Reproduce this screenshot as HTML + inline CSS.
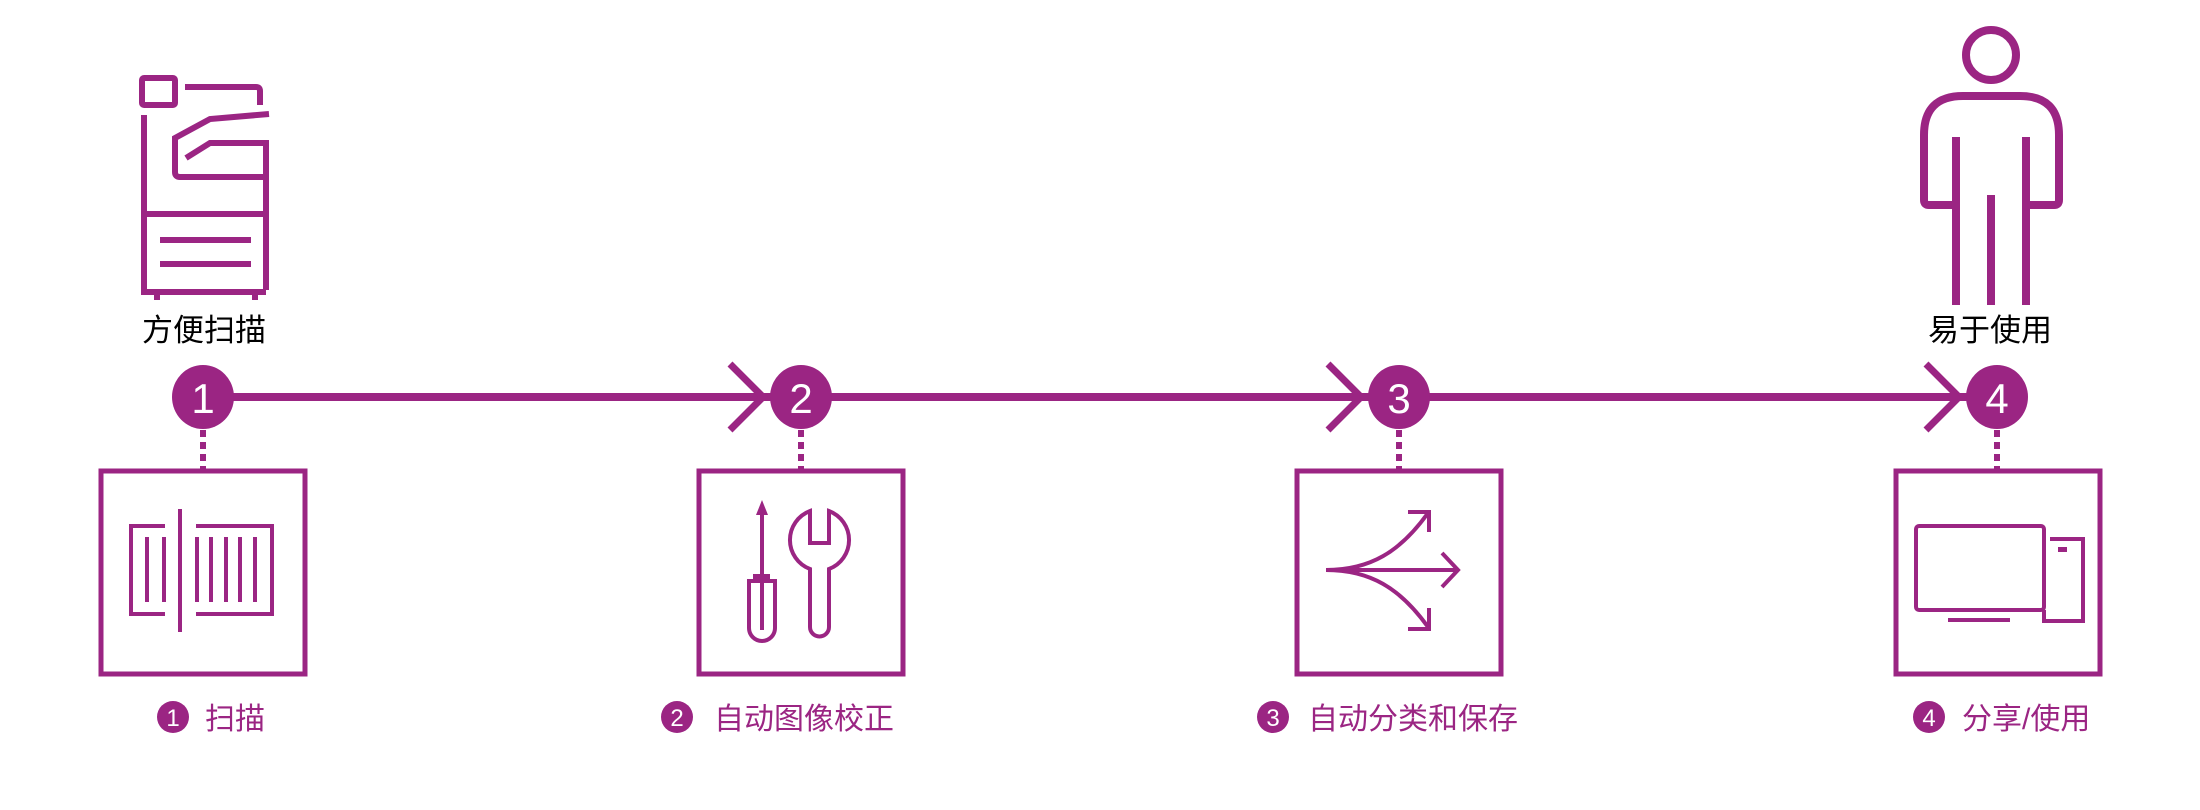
<!DOCTYPE html>
<html><head><meta charset="utf-8"><style>
html,body{margin:0;padding:0;background:#fff;}
svg{display:block;}
text{font-family:"Liberation Sans","Noto Sans CJK SC",sans-serif;}
</style></head><body>
<svg width="2200" height="810" viewBox="0 0 2200 810" xmlns="http://www.w3.org/2000/svg">
<g fill="none" stroke="#9b2583" stroke-linecap="butt" stroke-linejoin="miter">
<!-- printer -->
<g stroke-width="6">
<rect x="142" y="78" width="33" height="27" rx="2"/>
<path d="M185,87 H256 Q260,87 260,91 V105"/>
<path d="M269,114 L210,119 L175,138 V172 Q175,177 180,177 H266"/>
<path d="M186,158 L210,143 H266 V290"/>
<path d="M144,115 V292 H266"/>
<path d="M144,214 H266 M160,240 H251 M160,264 H251"/>
<path d="M157,292 V300 M255,292 V300" stroke-width="6"/>
</g>
<!-- person -->
<g stroke-width="8">
<circle cx="1991" cy="55" r="25"/>
<path d="M1956,205 H1929 Q1924,205 1924,200 V135 Q1924,96 1963,96 H2020 Q2059,96 2059,135 V200 Q2059,205 2054,205 H2026"/>
<path d="M1956,137 V305 M2026,137 V305 M1991,195 V305"/>
</g>
<!-- main line -->
<path d="M203,397 H1997" stroke-width="8"/>
<g stroke-width="7">
<path d="M730,364 L763,397 L730,430"/>
<path d="M1328,364 L1361,397 L1328,430"/>
<path d="M1926,364 L1959,397 L1926,430"/>
</g>
<!-- dotted -->
<g stroke-width="6" stroke-dasharray="7,5">
<path d="M203,430 V469 M801,430 V469 M1399,430 V469 M1997,430 V469"/>
</g>
<!-- boxes -->
<g stroke-width="5">
<rect x="101" y="471" width="204" height="203"/>
<rect x="699" y="471" width="204" height="203"/>
<rect x="1297" y="471" width="204" height="203"/>
<rect x="1896" y="471" width="204" height="203"/>
</g>
<!-- barcode -->
<g stroke-width="4">
<path d="M165,526 H131 V614 H165"/>
<path d="M196,526 H272 V614 H196"/>
<path d="M180,509 V632"/>
<path d="M147,537 V602 M164,537 V602 M197,537 V602 M211,537 V602 M226,537 V602 M240,537 V602 M255,537 V602"/>
</g>
<!-- tools -->
<g stroke-width="4">
<path d="M762,512 V630"/>
<path d="M749,581 V628 A13,13 0 0 0 775,628 V581 Z"/>
<path d="M810,511 V543 H829 V511 A31,31 0 0 1 829,569 V627 A9.5,9.5 0 0 1 810,627 V569 A31,31 0 0 1 810,511 Z"/>
</g>
<path d="M762,500 L756,515 H768 Z" fill="#9b2583" stroke="none"/>
<rect x="753" y="574" width="17" height="8" fill="#9b2583" stroke="none"/>
<!-- split arrows -->
<g stroke-width="4">
<path d="M1326,570 H1458"/>
<path d="M1442,553 L1458,570 L1442,587"/>
<path d="M1326,570 C1370,570 1400,552 1428,513"/>
<path d="M1326,570 C1370,570 1400,588 1428,627"/>
<path d="M1408,512 H1429 V532"/>
<path d="M1408,629 H1429 V608"/>
</g>
<!-- computer -->
<g stroke-width="4">
<rect x="1916" y="526" width="128" height="84" rx="3"/>
<path d="M2050,539 H2083 V621 H2044 V610"/>
<path d="M1948,620 H2010"/>
</g>
<rect x="2058" y="547" width="9" height="5" fill="#9b2583" stroke="none"/>
</g>
<!-- circles -->
<g fill="#9b2583">
<ellipse cx="203" cy="397" rx="31" ry="32"/>
<ellipse cx="801" cy="397" rx="31" ry="32"/>
<ellipse cx="1399" cy="397" rx="31" ry="32"/>
<ellipse cx="1997" cy="397" rx="31" ry="32"/>
<circle cx="173" cy="717" r="16"/>
<circle cx="677" cy="717" r="16"/>
<circle cx="1273" cy="717" r="16"/>
<circle cx="1929" cy="717" r="16"/>
</g>
<g fill="#fff" font-size="42" text-anchor="middle">
<text x="203" y="413">1</text>
<text x="801" y="413">2</text>
<text x="1399" y="413">3</text>
<text x="1997" y="413">4</text>
</g>
<g fill="#fff" font-size="24" text-anchor="middle">
<text x="173" y="726">1</text>
<text x="677" y="726">2</text>
<text x="1273" y="726">3</text>
<text x="1929" y="726">4</text>
</g>
<g fill="#000" font-size="31">
<text x="142" y="341">方便扫描</text>
<text x="1928" y="341">易于使用</text>
</g>
<g fill="#9b2583" font-size="30">
<text x="205" y="729">扫描</text>
<text x="714" y="729">自动图像校正</text>
<text x="1308" y="729">自动分类和保存</text>
<text x="1962" y="729">分享/使用</text>
</g>
</svg>
</body></html>
